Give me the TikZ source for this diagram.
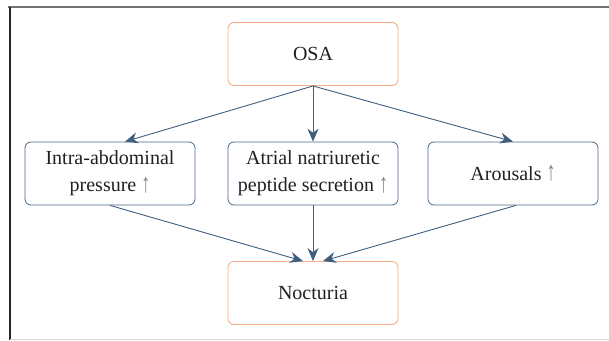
\documentclass[tikz,border=0pt]{standalone}
\usepackage{fontspec}
\setmainfont{Liberation Serif}
\usetikzlibrary{arrows.meta}
\definecolor{boxblue}{HTML}{4A6A8C}
\definecolor{arrblue}{HTML}{3F5E80}
\definecolor{boxorange}{HTML}{F5AE86}
\definecolor{txt}{HTML}{231F20}
\tikzset{
  basebox/.style={rounded corners=6pt, minimum width=170pt, minimum height=63pt,
    align=center, text=txt, font=\fontsize{20}{27}\selectfont, line width=0.9pt, inner sep=2pt},
  obox/.style={basebox, draw=boxorange},
  bbox/.style={basebox, draw=boxblue, line width=0.8pt},
  arr/.style={draw=arrblue, line width=0.9pt, -{Stealth[length=13pt,width=11pt]}}
}
\newcommand{\uparr}{\textcolor{gray}{\raisebox{-0.5pt}{\scalebox{0.9}[1.35]{↑}}}}
\begin{document}
\begin{tikzpicture}[x=1pt,y=-1pt]
\useasboundingbox (0,0) rectangle (609,340);
\draw[black!55, line width=1.3pt] (8,7) -- (609,7);
\draw[black!85, line width=1.3pt] (10,6.5) -- (10,340);
\draw[black!15, line width=1pt] (10,339) -- (609,339);
\node[obox] (osa) at (313,54) {OSA};
\node[bbox] (intra) at (110,173.5) {Intra-abdominal\\pressure \uparr};
\node[bbox] (atrial) at (313,173.5) {Atrial natriuretic\\peptide secretion \uparr};
\node[bbox] (arous) at (513,173.5) {Arousals \uparr};
\node[obox] (noct) at (313,293) {Nocturia};
\draw[arr] (osa.south) -- ([xshift=15pt]intra.north);
\draw[arr] (osa.south) -- (atrial.north);
\draw[arr] (osa.south) -- (arous.north);
\draw[arr] (intra.south) -- ([xshift=-10pt]noct.north);
\draw[arr] (atrial.south) -- (noct.north);
\draw[arr] ([xshift=3pt]arous.south) -- ([xshift=10pt]noct.north);
\end{tikzpicture}
\end{document}
